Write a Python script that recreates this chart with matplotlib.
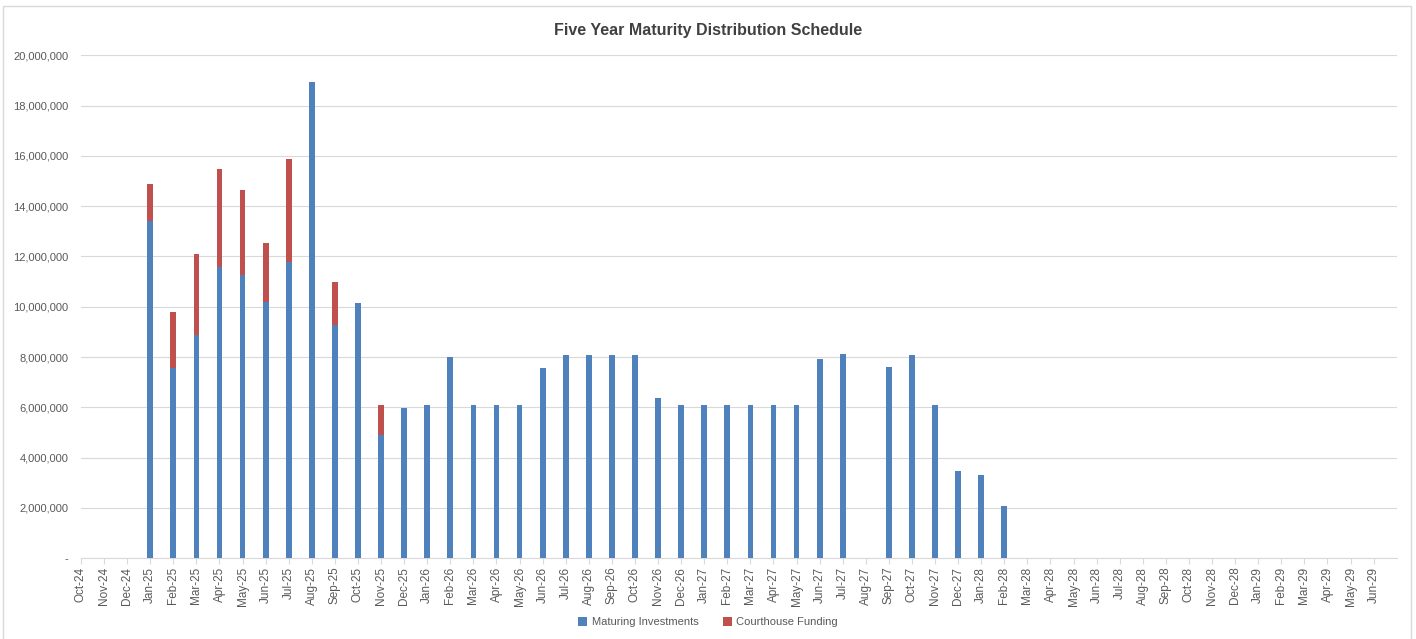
#!/usr/bin/env python3
"""Five year maturity distribution schedule - stacked monthly bars."""

import matplotlib
matplotlib.use("Agg")
import matplotlib.pyplot as plt
from matplotlib.patches import Rectangle
from matplotlib.ticker import FuncFormatter
import numpy as np

# ---------------------------------------------------------------------------
# Data
# ---------------------------------------------------------------------------
months = [
    "Oct-24", "Nov-24", "Dec-24",
    "Jan-25", "Feb-25", "Mar-25", "Apr-25", "May-25", "Jun-25",
    "Jul-25", "Aug-25", "Sep-25", "Oct-25", "Nov-25", "Dec-25",
    "Jan-26", "Feb-26", "Mar-26", "Apr-26", "May-26", "Jun-26",
    "Jul-26", "Aug-26", "Sep-26", "Oct-26", "Nov-26", "Dec-26",
    "Jan-27", "Feb-27", "Mar-27", "Apr-27", "May-27", "Jun-27",
    "Jul-27", "Aug-27", "Sep-27", "Oct-27", "Nov-27", "Dec-27",
    "Jan-28", "Feb-28", "Mar-28", "Apr-28", "May-28", "Jun-28",
    "Jul-28", "Aug-28", "Sep-28", "Oct-28", "Nov-28", "Dec-28",
    "Jan-29", "Feb-29", "Mar-29", "Apr-29", "May-29", "Jun-29",
]

maturing = [
    0, 0, 0,
    13_400_000, 7_580_000, 8_880_000, 11_580_000, 11_250_000, 10_200_000,
    11_780_000, 18_950_000, 9_280_000, 10_150_000, 4_900_000, 5_990_000,
    6_080_000, 7_990_000, 6_080_000, 6_080_000, 6_080_000, 7_550_000,
    8_080_000, 8_080_000, 8_080_000, 8_080_000, 6_360_000, 6_080_000,
    6_080_000, 6_080_000, 6_080_000, 6_080_000, 6_080_000, 7_920_000,
    8_110_000, 0, 7_600_000, 8_080_000, 6_080_000, 3_470_000,
    3_300_000, 2_080_000, 0, 0, 0, 0,
    0, 0, 0, 0, 0, 0,
    0, 0, 0, 0, 0, 0,
]

courthouse = [
    0, 0, 0,
    1_500_000, 2_200_000, 3_210_000, 3_910_000, 3_390_000, 2_340_000,
    4_110_000, 0, 1_690_000, 0, 1_180_000, 0,
] + [0] * 42

COLOR_BLUE = "#4F81BD"
COLOR_RED = "#C0504D"
TEXT_GRAY = "#595959"
GRID_GRAY = "#D9D9D9"

plt.rcParams["font.family"] = ["Liberation Sans", "DejaVu Sans"]

# ---------------------------------------------------------------------------
# Figure
# ---------------------------------------------------------------------------
fig = plt.figure(figsize=(14.16, 6.39), dpi=100)
ax = fig.add_axes([0.0572, 0.1263, 0.9292, 0.7872])

x = np.arange(len(months))
ax.bar(x, maturing, width=0.25, color=COLOR_BLUE, label="Maturing Investments",
       zorder=3)
ax.bar(x, courthouse, width=0.25, bottom=maturing, color=COLOR_RED,
       label="Courthouse Funding", zorder=3)

ax.set_xlim(0, len(months))
ax.set_ylim(0, 20_000_000)
ax.set_yticks(np.arange(0, 20_000_001, 2_000_000))
ax.yaxis.set_major_formatter(
    FuncFormatter(lambda v, _: "-" if v == 0 else f"{v:,.0f}"))
ax.set_xticks(x)
ax.set_xticklabels(months, rotation=90, fontsize=8.5, color=TEXT_GRAY)
ax.tick_params(axis="y", length=0, labelsize=8, labelcolor=TEXT_GRAY, pad=9)
ax.tick_params(axis="x", length=4, color=GRID_GRAY, pad=2)

ax.grid(axis="y", color=GRID_GRAY, linewidth=0.8, zorder=0)
for side in ("top", "right", "left"):
    ax.spines[side].set_visible(False)
ax.spines["bottom"].set_color(GRID_GRAY)

fig.text(0.5, 0.953, "Five Year Maturity Distribution Schedule",
         ha="center", va="center", fontsize=11.5, fontweight="bold",
         color="#404040")

fig.legend(loc="center", bbox_to_anchor=(0.5, 0.026), ncol=2, frameon=False,
           fontsize=8, handlelength=0.8, handleheight=0.8,
           columnspacing=2.2, handletextpad=0.4, labelcolor=TEXT_GRAY)

# chart border
fig.patches.append(Rectangle((3 / 1416, -0.02), 1408 / 1416, 1.02 - 6 / 639,
                             transform=fig.transFigure, fill=False,
                             edgecolor=GRID_GRAY, linewidth=1.0))

fig.savefig("out.png", dpi=100)
plt.close(fig)
